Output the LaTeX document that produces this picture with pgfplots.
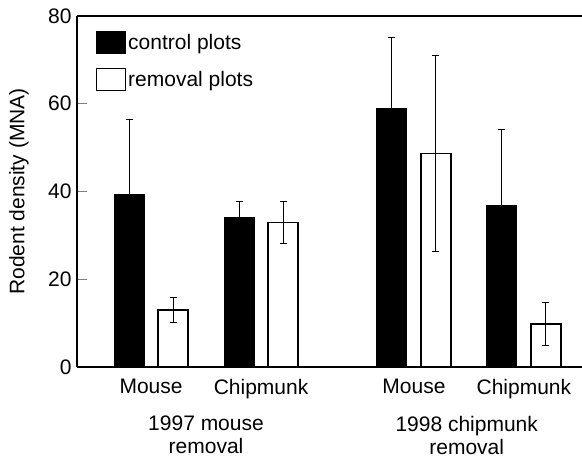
\documentclass[border=0pt]{standalone}
\usepackage{fontspec}
\setmainfont{Liberation Sans}
\usepackage{pgfplots}
\pgfplotsset{compat=1.18}
\begin{document}
\begin{tikzpicture}[font=\fontsize{21}{23}\selectfont]
\useasboundingbox (-77pt,-92pt) rectangle (505pt,367pt);
\begin{axis}[
  at={(0pt,0pt)}, anchor=south west,
  scale only axis, width=505pt, height=351pt,
  xmin=-0.673, xmax=3.918, ymin=0, ymax=80,
  separate axis lines,
  axis x line*=box, axis y line*=left,
  axis line style={line width=1.3pt},
  ybar, bar shift=0pt, bar width=0.273,
  ytick={0,20,40,60,80},
  ytick pos=left, tick align=inside,
  major tick length=10pt,
  ytick style={line width=1.1pt},
  xtick={0,1,2.39,3.39},
  xticklabels={Mouse,Chipmunk,Mouse,Chipmunk},
  xtick style={draw=none},
  xticklabel pos=lower,
  xticklabel style={yshift=-9pt},
  yticklabel style={xshift=-2pt},
  /pgf/number format/assume math mode=true,
  every axis y label/.style={at={(axis description cs:0,0.5)}, xshift=-58pt, rotate=90, anchor=center},
  ylabel={Rodent density (MNA)},
  legend style={at={(axis description cs:0.0376,0.957)}, anchor=north west, draw=none, fill=none, inner sep=0pt, row sep=14pt, /tikz/every even column/.append style={column sep=6pt}},
  legend cell align=left,
  legend image code/.code={\draw[#1, line width=1pt] (0pt,-11pt) rectangle (29pt,11pt);},
  clip=false,
]
\addplot[fill=black, draw=black, line width=1pt,
  error bars/.cd, y dir=plus, y explicit,
  error bar style={line width=1pt, black},
  error mark options={rotate=90, mark size=3.5pt, line width=1pt, black}]
  coordinates {(-0.2,39.3) +- (0,17.2) (0.8,34.0) +- (0,3.8) (2.19,59.0) +- (0,16.1) (3.19,36.7) +- (0,17.5)};
\addlegendentry{control plots}
\addplot[fill=white, draw=black, line width=1.3pt,
  error bars/.cd, y dir=both, y explicit,
  error bar style={line width=1pt, black},
  error mark options={rotate=90, mark size=3.5pt, line width=1pt, black}]
  coordinates {(0.2,13.0) +- (0,2.9) (1.2,32.9) +- (0,4.8) (2.59,48.7) +- (0,22.4) (3.59,9.8) +- (0,4.8)};
\addlegendentry{removal plots}
\node[align=center, anchor=north, inner sep=0pt] at (axis cs:0.5,0) [yshift=-49pt] {1997 mouse\\removal};
\node[align=center, anchor=north, inner sep=0pt] at (axis cs:2.87,0) [yshift=-49pt] {1998 chipmunk\\removal};
\end{axis}
\end{tikzpicture}
\end{document}
